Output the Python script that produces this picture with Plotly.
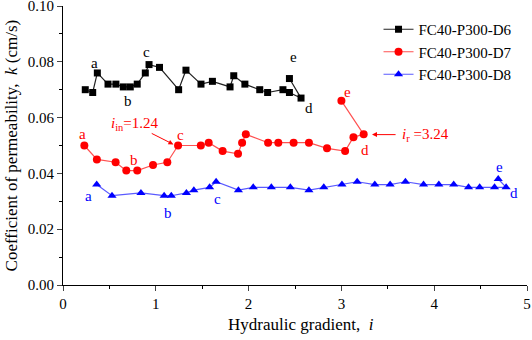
import plotly.graph_objects as go

# ---- data ----
d6_i = [0.24, 0.32, 0.37, 0.485, 0.57, 0.65, 0.725, 0.80, 0.887, 0.927, 1.04, 1.246, 1.325,
        1.487, 1.61, 1.80, 1.84, 1.96, 2.12, 2.205, 2.37, 2.44, 2.565, 2.44]
d6_k = [0.070, 0.069, 0.076, 0.072, 0.072, 0.071, 0.071, 0.072, 0.076, 0.079, 0.078, 0.070, 0.077,
        0.072, 0.073, 0.071, 0.075, 0.072, 0.070, 0.069, 0.070, 0.069, 0.067, 0.074]

d7_i = [0.23, 0.365, 0.567, 0.682, 0.80, 0.97, 1.124, 1.24, 1.485, 1.57, 1.72, 1.886, 1.93, 1.97,
        2.21, 2.32, 2.485, 2.65, 2.845, 3.04, 3.13, 3.24, 3.00]
d7_k = [0.050, 0.045, 0.044, 0.041, 0.041, 0.043, 0.044, 0.050, 0.050, 0.051, 0.048, 0.047, 0.051, 0.054,
        0.051, 0.051, 0.051, 0.051, 0.049, 0.048, 0.053, 0.054, 0.066]

d8_i = [0.363, 0.528, 0.84, 1.09, 1.167, 1.33, 1.41, 1.58, 1.65, 1.89, 2.05, 2.245, 2.45, 2.65,
        2.81, 3.006, 3.17, 3.36, 3.525, 3.69, 3.885, 4.05, 4.21, 4.37, 4.49, 4.65, 4.775, 4.69]
d8_k = [0.036, 0.032, 0.033, 0.032, 0.032, 0.033, 0.034, 0.035, 0.037, 0.034, 0.035, 0.035, 0.035, 0.034,
        0.035, 0.036, 0.037, 0.036, 0.036, 0.037, 0.036, 0.036, 0.036, 0.035, 0.035, 0.035, 0.035, 0.038]

series_names = ["FC40-P300-D6", "FC40-P300-D7", "FC40-P300-D8"]

FONT = "Liberation Serif, Times New Roman, serif"

fig = go.Figure()
fig.add_trace(go.Scatter(x=d6_i, y=d6_k, mode="lines+markers", name=series_names[0],
                         line=dict(color="#222222", width=1.2),
                         marker=dict(symbol="square", size=7, color="black"), cliponaxis=False))
fig.add_trace(go.Scatter(x=d7_i, y=d7_k, mode="lines+markers", name=series_names[1],
                         line=dict(color="#ff5050", width=1.2),
                         marker=dict(symbol="circle", size=8, color="red"), cliponaxis=False))
fig.add_trace(go.Scatter(x=d8_i, y=d8_k, mode="lines+markers", name=series_names[2],
                         line=dict(color="#5a5aff", width=1.2),
                         marker=dict(symbol="triangle-up", size=8, color="blue"), cliponaxis=False))

labels = [
    # black
    ("a", 0.34, 0.0795, "black"), ("b", 0.70, 0.0661, "black"), ("c", 0.905, 0.0834, "black"),
    ("e", 2.485, 0.0818, "black"), ("d", 2.647, 0.0633, "black"),
    # red
    ("a", 0.215, 0.054, "red"), ("b", 0.768, 0.0448, "red"), ("c", 1.27, 0.0538, "red"),
    ("e", 3.067, 0.0693, "red"), ("d", 3.257, 0.0484, "red"),
    # blue
    ("a", 0.276, 0.032, "blue"), ("b", 1.13, 0.0259, "blue"), ("c", 1.67, 0.0307, "blue"),
    ("e", 4.705, 0.0424, "blue"), ("d", 4.856, 0.0329, "blue"),
]
for t, x, y, c in labels:
    fig.add_annotation(x=x, y=y, text=t, showarrow=False, font=dict(family=FONT, size=15, color=c))

# i_in annotation
fig.add_annotation(x=0.78, y=0.0577, text="<i>i</i><sub>in</sub>=1.24", showarrow=False,
                   font=dict(family=FONT, size=15, color="red"))
fig.add_annotation(x=1.19, y=0.0504, ax=0.94, ay=0.0546, xref="x", yref="y", axref="x", ayref="y",
                   text="", showarrow=True, arrowhead=2, arrowsize=1, arrowwidth=1, arrowcolor="red")
# i_r annotation
fig.add_annotation(x=3.63, y=0.0538, text="<i>i</i><sub>r</sub> =3.24", showarrow=False, xanchor="left",
                   font=dict(family=FONT, size=15, color="red"))
fig.add_annotation(x=3.33, y=0.0539, ax=3.60, ay=0.0539, xref="x", yref="y", axref="x", ayref="y",
                   text="", showarrow=True, arrowhead=2, arrowsize=1, arrowwidth=1, arrowcolor="red")

# axis titles
fig.add_annotation(xref="paper", yref="paper", x=0.512, y=-0.143, xanchor="center", yanchor="middle",
                   text="Hydraulic gradient,&nbsp; <i>i</i>", showarrow=False,
                   font=dict(family=FONT, size=17, color="black"))
fig.add_annotation(xref="paper", yref="paper", x=-0.11, y=0.5, xanchor="center", yanchor="middle",
                   textangle=-90,
                   text="Coefficient of permeability,&nbsp; <i>k</i> (cm/s)", showarrow=False,
                   font=dict(family=FONT, size=17, color="black"))

fig.update_layout(
    width=532, height=340,
    margin=dict(l=63, r=5, t=6, b=55, autoexpand=False),
    paper_bgcolor="white", plot_bgcolor="white",
    font=dict(family=FONT, size=15, color="black"),
    showlegend=True,
    legend=dict(x=0.68, y=0.975, xanchor="left", yanchor="top", bgcolor="rgba(0,0,0,0)",
                font=dict(family=FONT, size=15), tracegroupgap=0),
)
fig.update_xaxes(range=[0, 5], tickvals=[0, 1, 2, 3, 4, 5], ticks="outside", ticklen=5,
                 automargin=False, ticklabeloverflow="allow",
                 showline=True, linecolor="black", linewidth=1, showgrid=False, zeroline=False,
                 tickfont=dict(family=FONT, size=15),
                 minor=dict(tickvals=[0.5, 1.5, 2.5, 3.5, 4.5], ticks="outside", ticklen=3, tickcolor="black"))
fig.update_yaxes(range=[0, 0.1], tickvals=[0, 0.02, 0.04, 0.06, 0.08, 0.10], tickformat=".2f",
                 ticks="outside", ticklen=5, automargin=False, ticklabeloverflow="allow",
                 showline=True, linecolor="black", linewidth=1, showgrid=False, zeroline=False,
                 tickfont=dict(family=FONT, size=15),
                 minor=dict(tickvals=[0.01, 0.03, 0.05, 0.07, 0.09], ticks="outside", ticklen=3, tickcolor="black"))

fig.write_html("out.html", config={"displayModeBar": False},
               post_script="document.body.style.margin='0px';document.body.style.overflow='hidden';")
